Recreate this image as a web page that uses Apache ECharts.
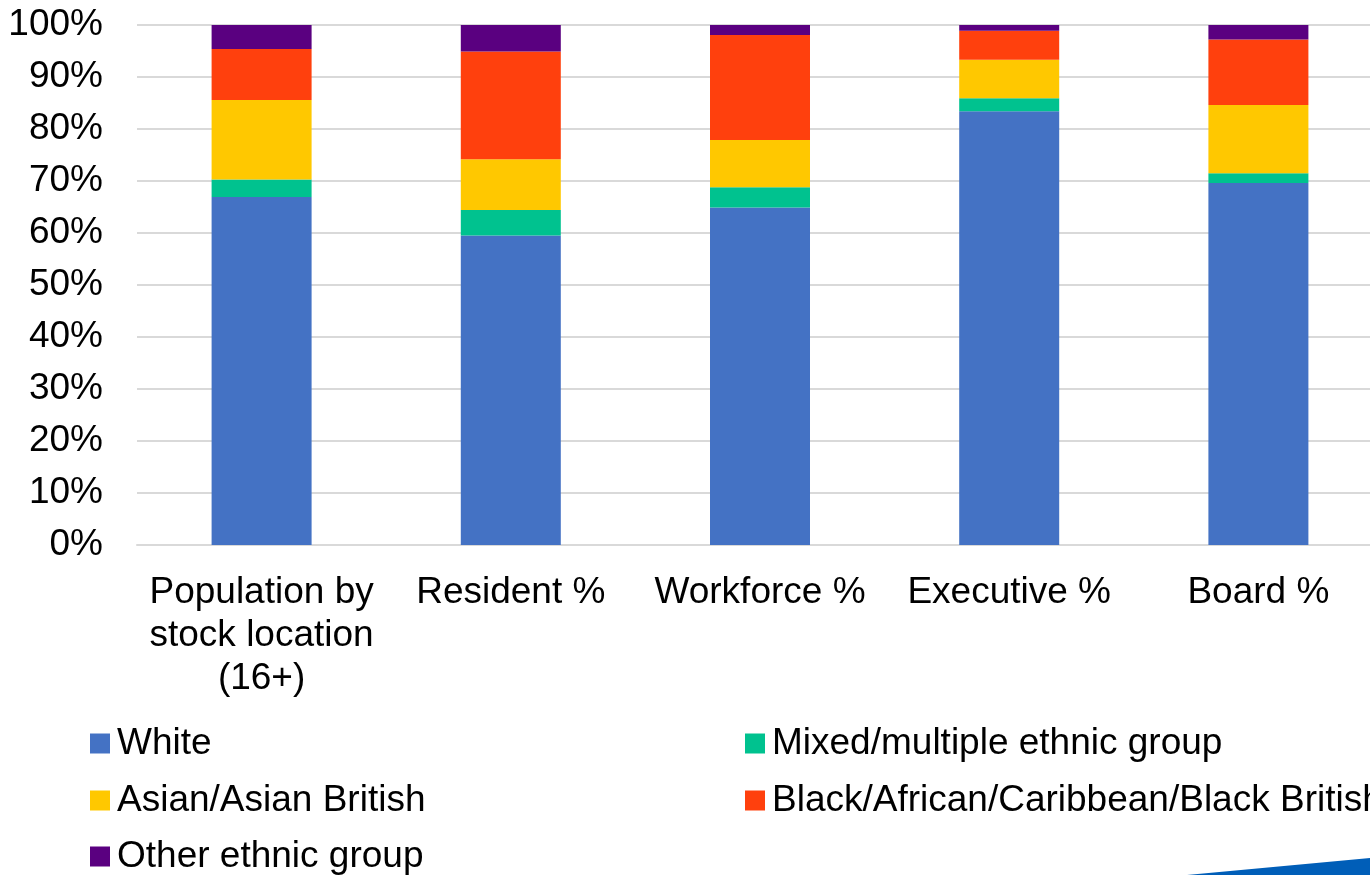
<!DOCTYPE html>
<html>
<head>
<meta charset="utf-8">
<script src="https://cdn.jsdelivr.net/npm/echarts@6/dist/echarts.min.js"></script>
<style>
html,body{margin:0;padding:0;background:#fff;}
#chart{width:1370px;height:875px;}
</style>
</head>
<body>
<div id="chart"></div>
<script>
const categories = ['Population by\nstock location\n(16+)', 'Resident %', 'Workforce %', 'Executive %', 'Board %'];
const seriesNames = ['White', 'Mixed/multiple ethnic group', 'Asian/Asian British', 'Black/African/Caribbean/Black British', 'Other ethnic group'];
const white = [66.9, 59.5, 64.9, 83.4, 69.6];
const mixed = [3.4, 4.9, 3.9, 2.5, 1.9];
const asian = [15.3, 9.8, 9.1, 7.4, 13.1];
const black = [9.8, 20.7, 20.2, 5.6, 12.6];
const other = [4.6, 5.1, 1.9, 1.1, 2.8];
const yTicks = [0, 10, 20, 30, 40, 50, 60, 70, 80, 90, 100];

const colors = ['#4472c4', '#00c28f', '#ffc800', '#ff400d', '#5a0080'];
const values = [white, mixed, asian, black, other];
const FONT = 'Liberation Sans, Arial, sans-serif';

const legendPos = [
  {left: 90, top: 725}, {left: 745, top: 725},
  {left: 90, top: 782}, {left: 745, top: 782},
  {left: 90, top: 838}
];

const chart = echarts.init(document.getElementById('chart'));
chart.setOption({
  animation: false,
  backgroundColor: '#fff',
  color: colors,
  grid: {left: 137, top: 25, width: 1246, height: 520, outerBoundsMode: 'none', containLabel: false},
  legend: seriesNames.map((n, i) => ({
    data: [n], left: legendPos[i].left, top: legendPos[i].top,
    padding: 0, icon: 'rect', itemWidth: 20, itemHeight: 20, itemGap: 0,
    textStyle: {fontFamily: FONT, fontSize: 37, color: '#000', padding: [0, 0, 0, 2]}
  })),
  xAxis: {
    type: 'category', data: categories,
    axisTick: {show: false},
    axisLine: {lineStyle: {color: '#d9d9d9', width: 2}},
    axisLabel: {fontFamily: FONT, fontSize: 37, color: '#000', lineHeight: 43, margin: 26, interval: 0}
  },
  yAxis: {
    type: 'value', min: yTicks[0], max: yTicks[yTicks.length - 1], interval: 10,
    axisLine: {show: false}, axisTick: {show: false},
    splitLine: {lineStyle: {color: '#d9d9d9', width: 2}},
    axisLabel: {fontFamily: FONT, fontSize: 37, color: '#000', margin: 34, formatter: '{value}%'}
  },
  series: seriesNames.map((n, i) => ({
    name: n, type: 'bar', stack: 'total', barWidth: 100,
    data: values[i], itemStyle: {color: colors[i]}
  })),
  graphic: [{
    type: 'polygon', silent: true,
    shape: {points: [[1187, 875], [1370, 858], [1370, 875]]},
    style: {fill: '#005eb8'}
  }]
});
</script>
</body>
</html>
